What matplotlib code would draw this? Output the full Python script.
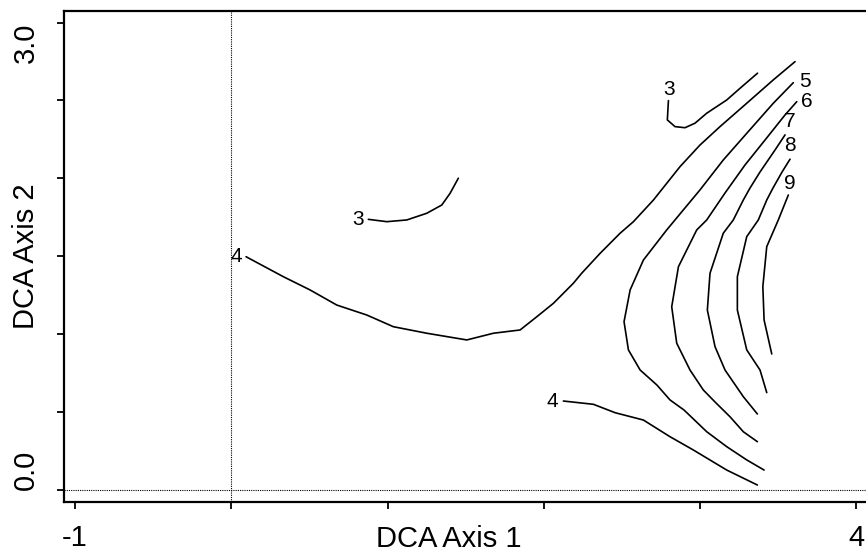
import matplotlib
matplotlib.use("Agg")
import matplotlib.pyplot as plt

plt.rcParams['font.family'] = ['Liberation Sans', 'DejaVu Sans']

# ---- contour lines (DCA Axis 1, DCA Axis 2) ----
c4_main_x = [0.095, 0.333, 0.504, 0.675, 0.867, 1.037, 1.251, 1.507, 1.677, 1.848, 1.955, 2.061,
             2.189, 2.242, 2.360, 2.488, 2.573, 2.701, 2.871, 2.999, 3.127, 3.298, 3.468, 3.607]
c4_main_y = [1.497, 1.369, 1.284, 1.187, 1.123, 1.048, 1.006, 0.963, 1.006, 1.027, 1.112, 1.198,
             1.327, 1.391, 1.519, 1.648, 1.722, 1.861, 2.075, 2.214, 2.332, 2.482, 2.632, 2.749]

c3_mid_x = [0.877, 0.995, 1.123, 1.251, 1.347, 1.400, 1.453]
c3_mid_y = [1.737, 1.722, 1.733, 1.776, 1.829, 1.904, 2.001]

c3_up_x = [2.797, 2.790, 2.839, 2.903, 2.967, 3.042, 3.170, 3.255, 3.367]
c3_up_y = [2.499, 2.375, 2.332, 2.325, 2.354, 2.418, 2.503, 2.578, 2.675]

c4_low_x = [2.125, 2.317, 2.456, 2.637, 2.807, 2.956, 3.170, 3.366]
c4_low_y = [0.571, 0.550, 0.496, 0.449, 0.342, 0.257, 0.128, 0.032]

c5_x = [3.596, 3.468, 3.298, 3.148, 2.999, 2.839, 2.786, 2.637, 2.552, 2.513, 2.541, 2.616,
        2.723, 2.807, 2.897, 3.042, 3.170, 3.298, 3.409]
c5_y = [2.614, 2.482, 2.289, 2.118, 1.926, 1.733, 1.669, 1.476, 1.284, 1.080, 0.899, 0.770,
        0.674, 0.578, 0.513, 0.374, 0.278, 0.193, 0.128]

c6_x = [3.618, 3.543, 3.415, 3.287, 3.159, 3.042, 2.978, 2.861, 2.818, 2.850, 2.935, 3.020,
        3.095, 3.191, 3.276, 3.366]
c6_y = [2.492, 2.407, 2.246, 2.086, 1.906, 1.733, 1.669, 1.433, 1.176, 0.942, 0.770, 0.642,
        0.565, 0.470, 0.374, 0.310]

c7_x = [3.543, 3.479, 3.383, 3.319, 3.276, 3.212, 3.148, 3.063, 3.046, 3.095, 3.159, 3.276, 3.366]
c7_y = [2.279, 2.182, 2.041, 1.938, 1.861, 1.733, 1.648, 1.391, 1.155, 0.920, 0.770, 0.599, 0.488]

c8_x = [3.575, 3.524, 3.466, 3.426, 3.372, 3.298, 3.238, 3.238, 3.298, 3.383, 3.426]
c8_y = [2.123, 2.041, 1.938, 1.861, 1.733, 1.626, 1.369, 1.155, 0.899, 0.770, 0.625]

c9_x = [3.564, 3.500, 3.426, 3.401, 3.409, 3.458]
c9_y = [1.893, 1.733, 1.562, 1.305, 1.091, 0.873]

# contour labels
label_text = ['4', '3', '3', '5', '6', '7', '8', '9', '4']
label_x = [0.031, 0.813, 2.803, 3.671, 3.682, 3.575, 3.575, 3.571, 2.051]
label_y = [1.496, 1.733, 2.572, 2.619, 2.492, 2.364, 2.208, 1.969, 0.567]

# axes ticks
xticks = [-1, 0, 1, 2, 3, 4]
xticklabels = ['-1', '', '', '', '', '4']
yticks = [0.0, 0.5, 1.0, 1.5, 2.0, 2.5, 3.0]
yticklabels = ['0.0', '', '', '', '', '', '3.0']

W, H = 866, 553
fig = plt.figure(figsize=(W / 100, H / 100), dpi=100)
left, right, top, bottom = 64, 866, 11, 502
ax = fig.add_axes([left / W, (H - bottom) / H, (right - left) / W, (bottom - top) / H])

ax.set_xlim(-1.070, 4.061)
ax.set_ylim(-0.077, 3.074)

lines = [(c4_main_x, c4_main_y), (c3_mid_x, c3_mid_y), (c3_up_x, c3_up_y), (c4_low_x, c4_low_y),
         (c5_x, c5_y), (c6_x, c6_y), (c7_x, c7_y), (c8_x, c8_y), (c9_x, c9_y)]
for xs, ys in lines:
    ax.plot(xs, ys, color='black', lw=1.2, solid_joinstyle='round', solid_capstyle='round')

for t, x, y in zip(label_text, label_x, label_y):
    ax.text(x, y, t, fontsize=15, ha='center', va='center', color='black')

ax.axvline(0, color='black', lw=0.8, ls=(0, (1, 1)))
ax.axhline(0, color='black', lw=0.8, ls=(0, (1, 1)))

ax.spines['right'].set_visible(False)
for s in ['left', 'bottom', 'top']:
    ax.spines[s].set_linewidth(1.6)

ax.set_xticks(xticks, xticklabels, fontsize=21)
ax.set_yticks(yticks, yticklabels, fontsize=21, rotation=90)
ax.tick_params(axis='both', direction='out', length=5, width=1.3)
ax.tick_params(axis='x', pad=11)
ax.tick_params(axis='y', pad=12.5)
for lab in ax.get_yticklabels():
    if lab.get_text() == '3.0':
        lab.set_va('top')
    elif lab.get_text() == '0.0':
        lab.set_va('bottom')

ax.set_xlabel('DCA Axis 1', fontsize=21)
ax.set_ylabel('DCA Axis 2', fontsize=21)
ax.xaxis.set_label_coords(0.48, -0.047, transform=ax.transAxes)
ax.xaxis.label.set_va('top')
ax.yaxis.set_label_coords(-0.047, 0.5, transform=ax.transAxes)
ax.yaxis.label.set_va('center')

fig.savefig('out.png', dpi=100)
